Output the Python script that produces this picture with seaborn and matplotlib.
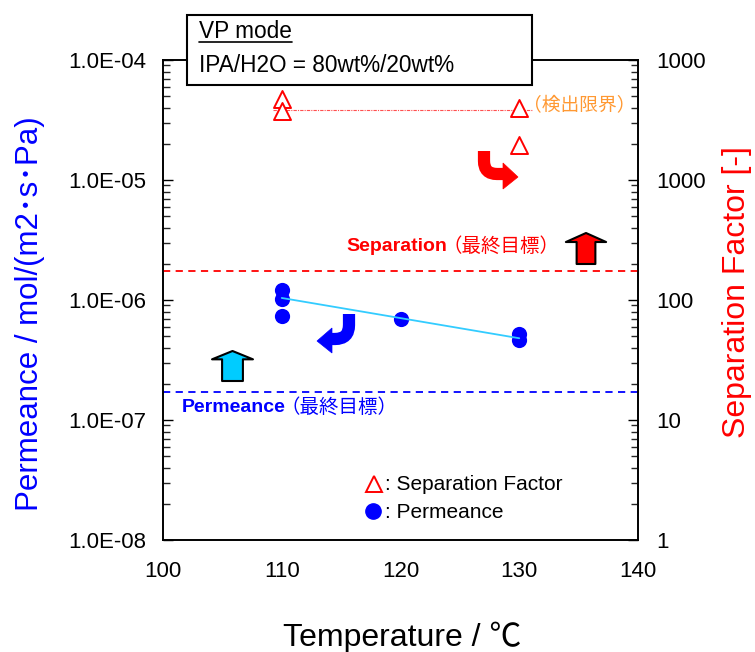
import numpy as np
import pandas as pd
import matplotlib
matplotlib.use("Agg")
import matplotlib.pyplot as plt
import seaborn as sns
from matplotlib.patches import Rectangle, FancyArrowPatch, PathPatch, Polygon
from matplotlib.path import Path
from matplotlib.lines import Line2D
from matplotlib.ticker import FixedLocator, FixedFormatter, LogLocator, NullFormatter

# ---------------- data ----------------
temps_sep = [110, 110, 130, 130]
sep_factor = [4730, 3760, 3950, 1940]

temps_perm = [110, 110, 110, 120, 130, 130]
permeance = [1.21e-6, 1.02e-6, 7.4e-7, 6.95e-7, 5.2e-7, 4.65e-7]

trend_temps = [110, 130]
trend_perm = [1.04e-6, 4.8e-7]

detect_temps = [109.3, 131.2]
detect_limit = [3830, 3830]

sep_target = 175
perm_target = 1.72e-7

x_ticks = [100, 110, 120, 130, 140]
left_ticks = [1e-8, 1e-7, 1e-6, 1e-5, 1e-4]
left_labels = ["1.0E-08", "1.0E-07", "1.0E-06", "1.0E-05", "1.0E-04"]
right_ticks = [1, 10, 100, 1000, 10000]
right_labels = ["1", "10", "100", "1000", "1000"]

# ---------------- style ----------------
sns.set_theme(style="white")
plt.rcParams["font.family"] = ["Liberation Sans", "Noto Sans CJK JP", "DejaVu Sans"]
plt.rcParams["axes.unicode_minus"] = False

W, H = 755, 652
fig = plt.figure(figsize=(W / 100, H / 100), dpi=100)


def fx(x):
    return x / W


def fy(y):
    return 1 - y / H


ax = fig.add_axes([fx(163), fy(540), fx(638) - fx(163), fy(60) - fy(540)])
ax2 = ax.twinx()

RED = "#ff0000"
BLUE = "#0000ff"
CYAN = "#33ccff"

# permeance (left axis)
df_perm = pd.DataFrame({"T": temps_perm, "P": permeance})
df_trend = pd.DataFrame({"T": trend_temps, "P": trend_perm})
sns.scatterplot(data=df_perm, x="T", y="P", ax=ax, color=BLUE, marker="o",
                s=120, edgecolor=BLUE, linewidth=0, zorder=3, legend=False)
sns.lineplot(data=df_trend, x="T", y="P", ax=ax, color=CYAN, linewidth=1.3,
             zorder=4, legend=False)
ax.axhline(perm_target, color=BLUE, linestyle=(0, (4, 3)), linewidth=1.3, zorder=2)

ax.set_yscale("log")
ax.set_ylim(1e-8, 1e-4)
ax.set_xlim(100, 140)
ax.yaxis.set_major_locator(FixedLocator(left_ticks))
ax.yaxis.set_major_formatter(FixedFormatter(left_labels))
ax.yaxis.set_minor_locator(LogLocator(base=10, subs=np.arange(2, 10)))
ax.yaxis.set_minor_formatter(NullFormatter())
ax.set_xticks(x_ticks)
ax.set_xticklabels([str(t) for t in x_ticks])
ax.set_xlabel("")
ax.set_ylabel("")

# separation factor (right axis)
df_sep = pd.DataFrame({"T": temps_sep, "S": sep_factor})
df_det = pd.DataFrame({"T": detect_temps, "S": detect_limit})
sns.lineplot(data=df_det, x="T", y="S", ax=ax2, color="#ff5050",
             linestyle=(0, (3, 1, 1, 1)), linewidth=0.8, zorder=2, legend=False)
sns.scatterplot(data=df_sep, x="T", y="S", ax=ax2, marker="^", s=150,
                color=RED, facecolor="white", edgecolor=RED, linewidth=1.4,
                zorder=3, legend=False)
ax2.axhline(sep_target, color=RED, linestyle=(0, (4, 3)), linewidth=1.3, zorder=2)

ax2.set_yscale("log")
ax2.set_ylim(1, 10000)
ax2.yaxis.set_major_locator(FixedLocator(right_ticks))
ax2.yaxis.set_major_formatter(FixedFormatter(right_labels))
ax2.yaxis.set_minor_locator(LogLocator(base=10, subs=np.arange(2, 10)))
ax2.yaxis.set_minor_formatter(NullFormatter())
ax2.set_xlim(100, 140)
ax2.set_xlabel("")
ax2.set_ylabel("")

for a in (ax, ax2):
    for s in a.spines.values():
        s.set_color("black")
        s.set_linewidth(1.2)

ax.tick_params(axis="x", which="major", direction="in", length=7, width=1,
               labelsize=16, pad=15, colors="black", top=False)
ax.tick_params(axis="y", which="major", direction="in", length=7, width=1,
               labelsize=16, pad=12, left=True, colors="black")
ax.tick_params(axis="y", which="minor", direction="in", length=5, width=1, left=True)
ax2.tick_params(axis="y", which="major", direction="in", length=7, width=1,
                labelsize=16, pad=13, right=True, colors="black")
ax2.tick_params(axis="y", which="minor", direction="in", length=5, width=1, right=True)
ax.grid(False)
ax2.grid(False)

# axis labels
fig.text(fx(30), fy(314), "Permeance / mol/(m2･s･Pa)", rotation=90,
         ha="center", va="center", fontsize=22.5, color=BLUE)
fig.text(fx(737), fy(292), "Separation Factor [-]", rotation=90,
         ha="center", va="center", fontsize=23, color=RED)
fig.text(fx(402), fy(637), "Temperature / ℃", ha="center", va="center",
         fontsize=23, color="black")

fig.canvas.draw()
r = fig.canvas.get_renderer()

# target annotations
sep_txt = fig.text(fx(559), fy(247), "（最終目標）", ha="right", va="center",
                   fontsize=14, color=RED)
bb = sep_txt.get_window_extent(r)
fig.text(bb.x0 / W + fx(5), fy(247), "Separation", ha="right", va="center",
         fontsize=14, color=RED, fontweight="bold")

perm_b = fig.text(fx(182), fy(408), "Permeance", ha="left", va="center",
                  fontsize=14, color=BLUE, fontweight="bold")
bb2 = perm_b.get_window_extent(r)
fig.text(bb2.x1 / W - fx(5), fy(408), "（最終目標）", ha="left", va="center",
         fontsize=14, color=BLUE)

fig.text(fx(636), fy(106), "（検出限界）", ha="right", va="center",
         fontsize=13.5, color="#ff9933")

# legend (manual)
fig.add_artist(Line2D([fx(374)], [fy(484)], marker="^", markersize=12,
                      markerfacecolor="white", markeredgecolor=RED,
                      markeredgewidth=1.4, linestyle="none"))
fig.text(fx(385), fy(485), ": Separation Factor", ha="left", va="center",
         fontsize=15, color="black")
fig.add_artist(Line2D([fx(373)], [fy(511)], marker="o", markersize=11,
                      markerfacecolor=BLUE, markeredgecolor=BLUE,
                      linestyle="none"))
fig.text(fx(385), fy(512), ": Permeance", ha="left", va="center",
         fontsize=15, color="black")

# condition box
fig.add_artist(Rectangle((fx(187), fy(85)), fx(532) - fx(187), fy(15) - fy(85),
                         transform=fig.transFigure, facecolor="white",
                         edgecolor="black", linewidth=1.5, zorder=5))
vp = fig.text(fx(199), fy(38), "VP mode", ha="left", va="baseline",
              fontsize=16.3, color="black", zorder=6)
vbb = vp.get_window_extent(r)
fig.add_artist(Line2D([vbb.x0 / W, vbb.x1 / W], [fy(42), fy(42)],
                      color="black", linewidth=1.2, zorder=6))
fig.text(fx(199), fy(72), "IPA/H2O = 80wt%/20wt%", ha="left", va="baseline",
         fontsize=16.3, color="black", zorder=6)


# block arrows
def block_arrow(x0, y0, x1, y1, fc, tw, hw, hl):
    p = FancyArrowPatch((fx(x0), fy(y0)), (fx(x1), fy(y1)),
                        transform=fig.transFigure,
                        arrowstyle=f"simple,head_length={hl},head_width={hw},tail_width={tw}",
                        mutation_scale=1, facecolor=fc, edgecolor="black",
                        linewidth=1.5, shrinkA=0, shrinkB=0, zorder=6)
    fig.add_artist(p)


block_arrow(586, 264, 586, 233, RED, 13.5, 29, 6.5)
block_arrow(232.5, 381, 232.5, 351, "#00ccff", 15, 29.5, 6)


# curved (hook) arrows: thick bent shaft + triangular head
def hook_arrow(pts, head, fc):
    verts = [(fx(x), fy(y)) for x, y in pts]
    codes = [Path.MOVETO, Path.LINETO, Path.CURVE3, Path.CURVE3, Path.LINETO]
    fig.add_artist(PathPatch(Path(verts, codes), transform=fig.transFigure,
                             fill=False, edgecolor=fc, linewidth=8.8,
                             capstyle="butt", joinstyle="miter", zorder=6))
    fig.add_artist(Polygon([(fx(x), fy(y)) for x, y in head], closed=True,
                           transform=fig.transFigure, facecolor=fc,
                           edgecolor=fc, linewidth=0.5, zorder=6))


hook_arrow([(484, 151), (484, 161), (484, 174), (497, 174), (505, 174)],
           [(503, 163), (503, 189), (518, 177)], RED)
hook_arrow([(349, 314), (349, 325), (349, 339), (335, 339), (330, 339)],
           [(332, 328), (332, 353), (317, 341)], BLUE)

fig.savefig("out.png", dpi=100)
